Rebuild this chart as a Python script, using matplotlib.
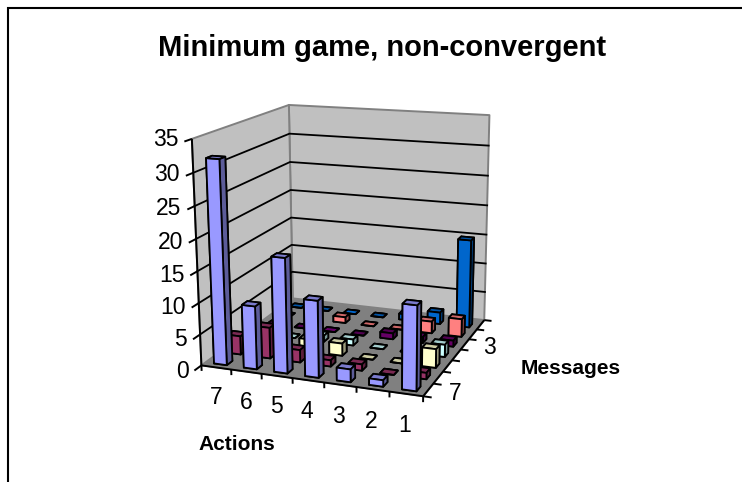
import matplotlib
matplotlib.use('Agg')
import matplotlib.pyplot as plt
from matplotlib.colors import to_rgb
from matplotlib.lines import Line2D
from mpl_toolkits.mplot3d import proj3d
from mpl_toolkits.mplot3d.art3d import Poly3DCollection

plt.rcParams['font.family'] = ['Liberation Sans', 'DejaVu Sans']

W, H = 742, 482

# actions run left to right, message rows run front to back
actions = ['7', '6', '5', '4', '3', '2', '1']
messages = ['7', '6', '5', '4', '3', '2', '1']
z_ticks = [0, 5, 10, 15, 20, 25, 30, 35]
shown_messages = ['7', '3']

msg7 = [32, 10, 18, 12, 2, 1, 13]
msg6 = [3, 5, 2, 1, 1, 0, 1]
msg5 = [0, 0, 2, 2, 0, 0, 3]
msg4 = [1, 0, 1, 1, 0, 0, 2]
msg3 = [0, 0, 0, 0, 1, 1, 1]
msg2 = [0, 0, 1, 0, 0, 2, 3]
msg1 = [0, 0, 0, 0, 1, 2, 15]
rows = [msg7, msg6, msg5, msg4, msg3, msg2, msg1]
row_colors = ['#9999FF', '#993366', '#FFFFCC', '#CCFFFF', '#660066', '#FF8080', '#0066CC']

BAR_W, BAR_D = 0.43, 0.38
nx, ny, zmax = len(actions), len(messages), z_ticks[-1]


def shaded(color, k):
    return tuple(c * k for c in to_rgb(color))


def row_centre(j):
    return 0.47 + j * 0.972


fig = plt.figure(figsize=(W / 100, H / 100), dpi=100)
# square 3D axes, 600 px wide, centred on the chart box
side, cx, cy = 600, 341.47, 244.74
ax = fig.add_axes([(cx - side / 2) / W, (H - cy - side / 2) / H, side / W, side / H],
                  projection='3d', computed_zorder=False)
ax.set_axis_off()
ax.view_init(14.96, -69.2, 0.368)
ax.set_proj_type('persp', focal_length=0.3549)
ax.set_box_aspect((1.0104, 1.0007, 1.0), zoom=0.6262)

# walls and floor
walls = [[(0, 0, 0), (0, ny, 0), (0, ny, zmax), (0, 0, zmax)],
         [(0, ny, 0), (nx, ny, 0), (nx, ny, zmax), (0, ny, zmax)]]
ax.add_collection3d(Poly3DCollection(walls, facecolor='#C0C0C0', edgecolor='#808080',
                                     linewidth=1.4, zorder=0))
floor = [[(0, 0, 0), (nx, 0, 0), (nx, ny, 0), (0, ny, 0)]]
ax.add_collection3d(Poly3DCollection(floor, facecolor='#808080', edgecolor='#808080',
                                     linewidth=0.5, zorder=1))

# gridlines on both walls
for v in z_ticks[1:-1]:
    ax.plot([0, 0, nx], [0, ny, ny], [v, v, v], color='k', lw=1.3, zorder=2)

# axis lines and tick marks
axis_kw = dict(color='k', lw=1.4, zorder=3, solid_capstyle='butt')
ax.plot([0, 0], [0, 0], [0, zmax], **axis_kw)
ax.plot([0, nx, nx], [0, 0, ny], [0, 0, 0], **axis_kw)
for v in z_ticks:
    ax.plot([0, 0], [0, -0.45], [v, v], **axis_kw)
for i in range(nx + 1):
    ax.plot([i, i], [0, 0], [0, -0.9], **axis_kw)
for j in range(ny + 1):
    ax.plot([nx, nx + 0.25], [j, j], [0, 0], **axis_kw)

# bars, drawn back to front and left to right
for j in reversed(range(ny)):
    for i in range(nx):
        c = row_colors[j]
        # face order is bottom, top, front, back, left, right
        faces = [c, shaded(c, 0.8), c, c, shaded(c, 0.6), shaded(c, 0.6)]
        ax.bar3d(i + 0.5 - BAR_W / 2, row_centre(j) - BAR_D / 2, 0, BAR_W, BAR_D, rows[j][i],
                 color=faces, edgecolor='k', linewidth=1.3, shade=False,
                 zorder=10 + (ny - j) * nx + i)

ax.set_xlim(0, nx)
ax.set_ylim(0, ny)
ax.set_zlim(0, zmax)
ax.set_xticks([])
ax.set_yticks([])
ax.set_zticks([])


def label_at(x, y, z, s, **kw):
    # flat text placed at a projected 3D point
    u, v, _ = proj3d.proj_transform(x, y, z, ax.get_proj())
    ax.text2D(u, v, s, transform=ax.transData, fontsize=16.5, va='center', **kw)


# tick labels
for v in z_ticks:
    label_at(0, -0.8, v + 0.55, str(v), ha='right')
for i, name in enumerate(actions):
    label_at(i + 0.45, 0, -5.0, name, ha='center')
for j, name in enumerate(messages):
    if name in shown_messages:
        label_at(nx + 0.8, j + 0.5, 0, name, ha='center')

fig.text(382.5 / W, 1 - 56 / H, 'Minimum game, non-convergent', ha='center', va='baseline',
         fontsize=21, fontweight='bold')
fig.text(236.5 / W, 1 - 445 / H, 'Actions', ha='center', va='center', fontsize=15, fontweight='bold')
fig.text(571 / W, 1 - 369 / H, 'Messages', ha='center', va='center', fontsize=15, fontweight='bold')

# chart area border, top and left edges only
fig.add_artist(Line2D([8 / W, 8 / W, 1], [0, 1 - 8 / H, 1 - 8 / H], color='k', lw=1.5,
                      solid_joinstyle='miter', transform=fig.transFigure))

fig.savefig('out.png', dpi=100)
